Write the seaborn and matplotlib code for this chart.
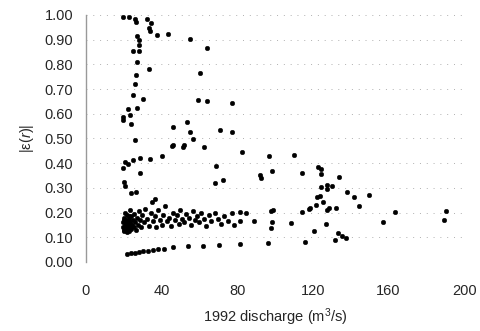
import numpy as np
import pandas as pd
import matplotlib
matplotlib.use("Agg")
import matplotlib.pyplot as plt
import seaborn as sns

# Upper branch and scattered points
upper_x = [19.4, 22.9, 25.9, 26.3, 32.1, 34.3, 33.3, 33.8, 37.4, 43.5, 27.1, 28.2, 28.2, 28.2, 24.7,
           55.0, 63.8, 26.8, 33.3, 60.2, 26.4, 26.0, 25.0, 30.3, 59.5, 63.8, 77.0, 26.8, 22.4, 23.2,
           19.7, 19.7, 24.1, 25.9, 45.8, 55.0, 53.7, 70.8, 77.3, 46.1, 45.5, 51.1, 52.0, 56.7, 62.4,
           40.3, 28.5, 33.8, 69.0, 20.6, 22.4, 19.7, 25.0, 28.5, 20.1, 20.6, 24.1, 26.4, 36.5, 35.2,
           68.2, 72.6]
upper_y = [0.993, 0.993, 0.984, 0.970, 0.984, 0.969, 0.946, 0.935, 0.919, 0.922, 0.915, 0.899, 0.879, 0.854, 0.854,
           0.902, 0.868, 0.809, 0.781, 0.766, 0.756, 0.719, 0.676, 0.660, 0.656, 0.652, 0.643, 0.625, 0.619, 0.595,
           0.588, 0.575, 0.557, 0.494, 0.548, 0.528, 0.568, 0.534, 0.525, 0.474, 0.470, 0.467, 0.475, 0.497, 0.467,
           0.430, 0.420, 0.417, 0.390, 0.406, 0.397, 0.379, 0.413, 0.359, 0.323, 0.309, 0.278, 0.282, 0.255, 0.244,
           0.319, 0.332]

# Right-hand scattered points
right_x = [96.7, 110.1, 82.3, 122.8, 124.2, 124.2, 98.6, 114.5, 91.9, 92.8, 133.9, 124.2, 127.5, 130.2, 127.5,
           138.3, 141.8, 149.7, 144.4, 123.6, 122.2, 125.4, 121.5, 118.7, 117.8, 114.5, 128.6, 127.7, 132.1,
           99.0, 98.1, 84.9, 81.4, 163.3, 190.6, 189.2, 157.1, 98.4, 88.8, 81.4, 108.2, 127.2, 97.6, 120.5,
           133.3, 135.6, 137.4]
right_y = [0.430, 0.434, 0.447, 0.386, 0.377, 0.355, 0.370, 0.359, 0.352, 0.339, 0.345, 0.302, 0.312, 0.308, 0.294,
           0.282, 0.262, 0.271, 0.228, 0.268, 0.262, 0.242, 0.231, 0.217, 0.213, 0.202, 0.220, 0.211, 0.217,
           0.211, 0.206, 0.197, 0.204, 0.204, 0.206, 0.170, 0.161, 0.161, 0.167, 0.166, 0.157, 0.154, 0.139, 0.127,
           0.116, 0.105, 0.096]

# Dense band
band_x = [19.5, 19.8, 20.0, 20.2, 20.5, 20.8, 21.0, 21.2, 21.5, 21.8, 22.0, 22.3, 22.6, 22.9, 23.2,
          23.5, 23.8, 24.1, 24.4, 24.8, 25.2, 25.6, 26.0, 26.5, 27.0, 27.5, 28.0, 28.5, 29.0, 29.5,
          30.5, 31.5, 32.5, 33.5, 34.5, 35.5, 36.5, 37.0, 38.0, 39.0, 40.0, 41.0, 42.0, 43.0, 44.0,
          45.0, 46.0, 47.0, 48.0, 49.0, 50.0, 51.0, 52.0, 53.0, 54.5, 55.5, 56.5, 57.5, 58.5, 60.0,
          61.0, 62.5, 63.5, 65.0, 66.0, 68.0, 70.0, 71.5, 73.0, 75.0, 77.0, 78.5,
          20.3, 21.4, 22.1, 23.0, 24.0, 19.9, 21.7, 22.8, 20.6, 23.6]
band_y = [0.140, 0.160, 0.130, 0.180, 0.150, 0.200, 0.135, 0.170, 0.145, 0.190, 0.155, 0.130, 0.175, 0.140, 0.210,
          0.160, 0.135, 0.185, 0.150, 0.170, 0.140, 0.195, 0.160, 0.130, 0.180, 0.150, 0.205, 0.170, 0.140, 0.190,
          0.160, 0.215, 0.175, 0.145, 0.200, 0.165, 0.185, 0.140, 0.210, 0.170, 0.150, 0.190, 0.225, 0.165, 0.180,
          0.145, 0.200, 0.170, 0.190, 0.155, 0.210, 0.175, 0.160, 0.195, 0.180, 0.150, 0.205, 0.170, 0.185, 0.160,
          0.200, 0.175, 0.145, 0.190, 0.165, 0.200, 0.175, 0.155, 0.185, 0.165, 0.200, 0.150,
          0.125, 0.155, 0.165, 0.125, 0.145, 0.170, 0.120, 0.185, 0.140, 0.150]

# Lower curve
low_x = [21.5, 23.8, 26.0, 28.2, 30.3, 32.9, 35.5, 38.2, 41.2, 46.1, 54.1, 62.0, 70.5, 81.4, 96.3, 115.7, 131.6]
low_y = [0.032, 0.035, 0.038, 0.040, 0.043, 0.045, 0.049, 0.051, 0.054, 0.059, 0.063, 0.066, 0.069, 0.072, 0.076, 0.082, 0.089]

x_ticks = [0, 40, 80, 120, 160, 200]
y_ticks = [0.0, 0.1, 0.2, 0.3, 0.4, 0.5, 0.6, 0.7, 0.8, 0.9, 1.0]

df = pd.DataFrame({
    "discharge": upper_x + right_x + band_x + low_x,
    "err": upper_y + right_y + band_y + low_y,
})

sns.set_style("white")
plt.rcParams["font.family"] = ["Liberation Sans", "DejaVu Sans"]
plt.rcParams["mathtext.fontset"] = "custom"
plt.rcParams["mathtext.rm"] = "Liberation Sans"
plt.rcParams["mathtext.it"] = "Liberation Sans:italic"

fig = plt.figure(figsize=(4.8, 3.31), dpi=100)
ax = fig.add_axes([0.179, 0.2085, 0.788, 0.7465])

sns.scatterplot(data=df, x="discharge", y="err", ax=ax, color="black",
                s=11, edgecolor="black", linewidth=0.3, zorder=3)

ax.set_xlim(0, 200)
ax.set_ylim(0, 1.0)
ax.set_xticks(x_ticks)
ax.set_xticklabels([str(t) for t in x_ticks])
ax.set_yticks(y_ticks)
ax.set_yticklabels([f"{t:.2f}" for t in y_ticks])

ax.yaxis.grid(True, linestyle=(0, (1, 6)), color="#b0b0b0", linewidth=0.7)
ax.xaxis.grid(False)
ax.set_axisbelow(True)

for s in ["top", "right", "bottom"]:
    ax.spines[s].set_visible(False)
ax.spines["left"].set_color("#999999")
ax.spines["left"].set_linewidth(1.0)

ax.tick_params(axis="y", length=3, width=0.8, color="#999999", pad=6, labelsize=10.5)
ax.tick_params(axis="x", length=0, pad=16, labelsize=10.5)

ax.set_xlabel("1992 discharge (m$^3$/s)", fontsize=10.5, labelpad=6)
ax.set_ylabel("|ε($\\it{r}$)|", fontsize=10.5, labelpad=6)

fig.savefig("out.png", dpi=100)
